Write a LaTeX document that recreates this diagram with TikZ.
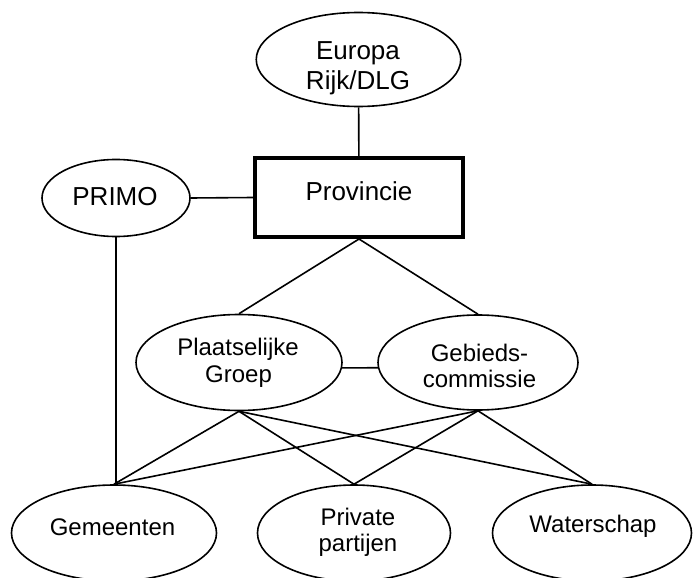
\documentclass[tikz,border=0pt]{standalone}
\usepackage{fontspec}
\setmainfont{Liberation Sans}
\usetikzlibrary{shapes.geometric}

\begin{document}
\begin{tikzpicture}[x=1pt, y=-1pt,
  bubble/.style={draw, ellipse, line width=1.6pt, inner sep=0pt},
  mainbox/.style={draw, rectangle, line width=4pt, inner sep=0pt},
  link/.style={line width=1.6pt},
  bigtxt/.style={anchor=base, inner sep=0pt, font=\fontsize{26}{30}\selectfont},
  txt/.style={anchor=base, inner sep=0pt, font=\fontsize{24}{28}\selectfont}]
  \useasboundingbox (0,0) rectangle (694,578);

  % shapes
  \node[bubble, minimum width=204.5pt, minimum height=94pt] (eur) at (358.5,59.5) {};
  \node[mainbox, minimum width=208pt, minimum height=79pt] (prov) at (359,197.5) {};
  \node[bubble, minimum width=148pt, minimum height=77pt] (primo) at (116,198) {};
  \node[bubble, minimum width=206pt, minimum height=96pt] (pg) at (239,362.5) {};
  \node[bubble, minimum width=200pt, minimum height=95pt] (gc) at (478,362.5) {};
  \node[bubble, minimum width=205pt, minimum height=96pt] (gem) at (114,533) {};
  \node[bubble, minimum width=193pt, minimum height=96pt] (priv) at (354,533) {};
  \node[bubble, minimum width=199pt, minimum height=96pt] (wat) at (592,533) {};

  % labels
  \node[bigtxt] (eur1) at (358,60) {Europa};
  \node[bigtxt] (eur2) at (358,90) {Rijk/DLG};
  \node[bigtxt] (provt) at (359,200) {Provincie};
  \node[bigtxt] (primot) at (115,205) {PRIMO};
  \node[txt] (pg1) at (238,355) {Plaatselijke};
  \node[txt] (pg2) at (238.5,382) {Groep};
  \node[txt] (gc1) at (479.5,361) {Gebieds-};
  \node[txt] (gc2) at (479.5,387) {commissie};
  \node[txt] (gemt) at (112.5,535) {Gemeenten};
  \node[txt] (priv1) at (358,525) {Private};
  \node[txt] (priv2) at (358,551) {partijen};
  \node[txt] (watt) at (593,532) {Waterschap};

  % connectors
  \draw[link] (eur) -- (prov);
  \draw[link] (primo.east) -- (prov.west);
  \draw[link] (prov.south) -- (pg.north);
  \draw[link] (prov.south) -- (gc.north);
  \draw[link] (pg.-3.5) -- (gc.183.5);
  \draw[link] (primo.south) -- (primo.south |- gem.north);
  \foreach \src in {pg, gc}
    \foreach \dst in {gem, priv, wat}
      \draw[link] (\src.south) -- (\dst.north);
\end{tikzpicture}
\end{document}
